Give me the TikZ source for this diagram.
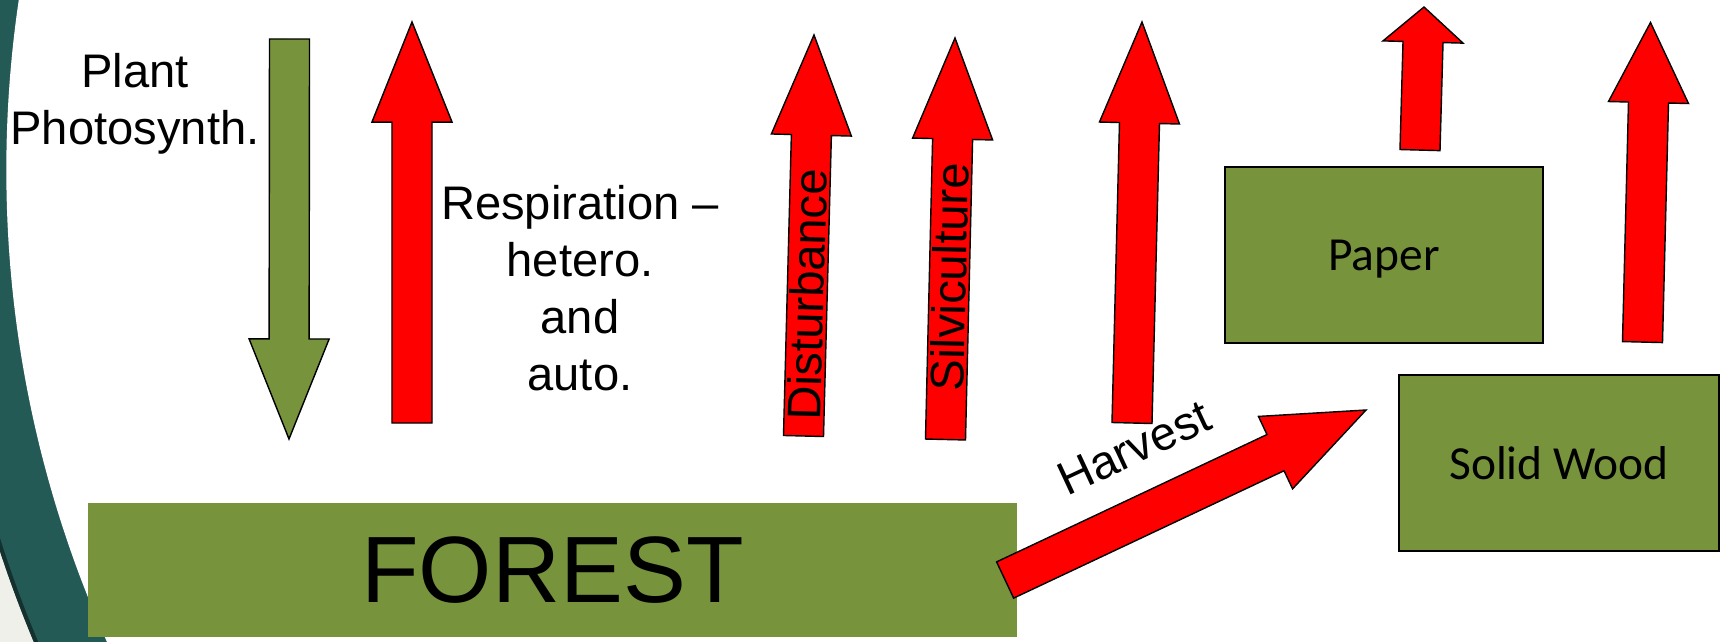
\documentclass[tikz,border=0pt]{standalone}
\usepackage{fontspec}
\setmainfont{Liberation Sans}
\newfontfamily\calibri{Carlito}
\usepackage{tikz}
\usetikzlibrary{calc, positioning}
\usepackage{xcolor}
\definecolor{olivebox}{HTML}{77933C}
\definecolor{slideteal}{HTML}{245A55}
\definecolor{slidegray}{HTML}{F0F0EA}

% block arrow: style, tail, tip, head length
\newcommand{\blockarrow}[4]{%
  \coordinate (hb) at ($(#3)!#4!(#2)$);
  \filldraw[#1] ($(#2)!0.2cm!90:(#3)$) -- ($(hb)!0.2cm!90:(#3)$)
    -- ($(hb)!0.4cm!90:(#3)$) -- (#3) -- ($(hb)!0.4cm!-90:(#3)$)
    -- ($(hb)!0.2cm!-90:(#3)$) -- ($(#2)!0.2cm!-90:(#3)$) -- cycle;
}

\begin{document}
\begin{tikzpicture}[
    x = 0.01cm, y = -0.01cm,
    stock/.style  = {rectangle, draw=black, line width=0.5pt, fill=olivebox,
                     minimum width=3.2cm, minimum height=1.76cm, text depth=0pt,
                     font=\calibri\fontsize{13.5}{16}\selectfont},
    flux/.style   = {align=center, inner sep=0pt,
                     font=\fontsize{13.4}{16.2}\selectfont},
    emit/.style   = {draw=black, line width=0.4pt, fill=red},
    uptake/.style = {draw=black, line width=0.4pt, fill=olivebox},
]

% Slide background with the teal arc
\useasboundingbox (0,0) rectangle (1729,642);
\begin{scope}
  \clip (0,0) rectangle (1729,642);
  \fill[slidegray] (0,0) rectangle (1729,642);
  \fill[slideteal] (1160,170) circle[radius=12.2cm];
  \draw[slideteal!55!black, line width=0.04cm] (1160,170) circle[radius=12.18cm];
  \fill[white] (1160,170) circle[radius=11.53cm];
\end{scope}

% Pools
\node[stock, draw=none, minimum width=9.29cm, minimum height=1.34cm,
      font=\fontsize{26.8}{32}\selectfont] (forest) at (552.5,570) {FOREST};
\node[stock, minimum width=3.18cm] (paper) at (1384,255) {Paper};
\node[stock] (wood) at (1559,463) {Solid Wood};

% Photosynthesis (into the forest)
\coordinate (ps0) at (289.5,39);
\coordinate (ps1) at (289,439);
\blockarrow{uptake}{ps0}{ps1}{1cm}
\node[flux] (photo) at (135,104) {Plant\\Photosynth.};

% Respiration
\coordinate (rs0) at (412,423);
\coordinate (rs1) at (412,22);
\blockarrow{emit}{rs0}{rs1}{1cm}
\node[flux] (resp) at (580,288) {Respiration –\\hetero.\\and\\auto.};

% Disturbance and silviculture
\coordinate (ds0) at (803.5,436);
\coordinate (ds1) at (814,35);
\blockarrow{emit}{ds0}{ds1}{1cm}
\path (ds0) -- (ds1) node[flux, pos=0.352, sloped] (dlbl) {Disturbance};

\coordinate (sv0) at (945.5,439.5);
\coordinate (sv1) at (955,38);
\blockarrow{emit}{sv0}{sv1}{1.01cm}
\path (sv0) -- (sv1) node[flux, pos=0.405, sloped] (slbl) {Silviculture};

% Harvest losses
\coordinate (hv0) at (1132,423);
\coordinate (hv1) at (1142,22);
\blockarrow{emit}{hv0}{hv1}{1.01cm}

% Harvest to products
\coordinate (hr0) at ($(forest.east)+(-13,10)$);
\coordinate (hr1) at ($(wood.west)+(-32,-53)$);
\blockarrow{emit}{hr0}{hr1}{1cm}
\node[flux, rotate=25] (hlbl) at (1134,448) {Harvest};

% Product decay
\coordinate (pp0) at ($(paper.north)+(36,-16)$);
\coordinate (pp1) at (1424,7);
\blockarrow{emit}{pp0}{pp1}{0.35cm}

\coordinate (wd0) at ($(wood.north)+(83.5,-32)$);
\coordinate (wd1) at (1650.5,22.5);
\blockarrow{emit}{wd0}{wd1}{0.8cm}

\end{tikzpicture}
\end{document}
